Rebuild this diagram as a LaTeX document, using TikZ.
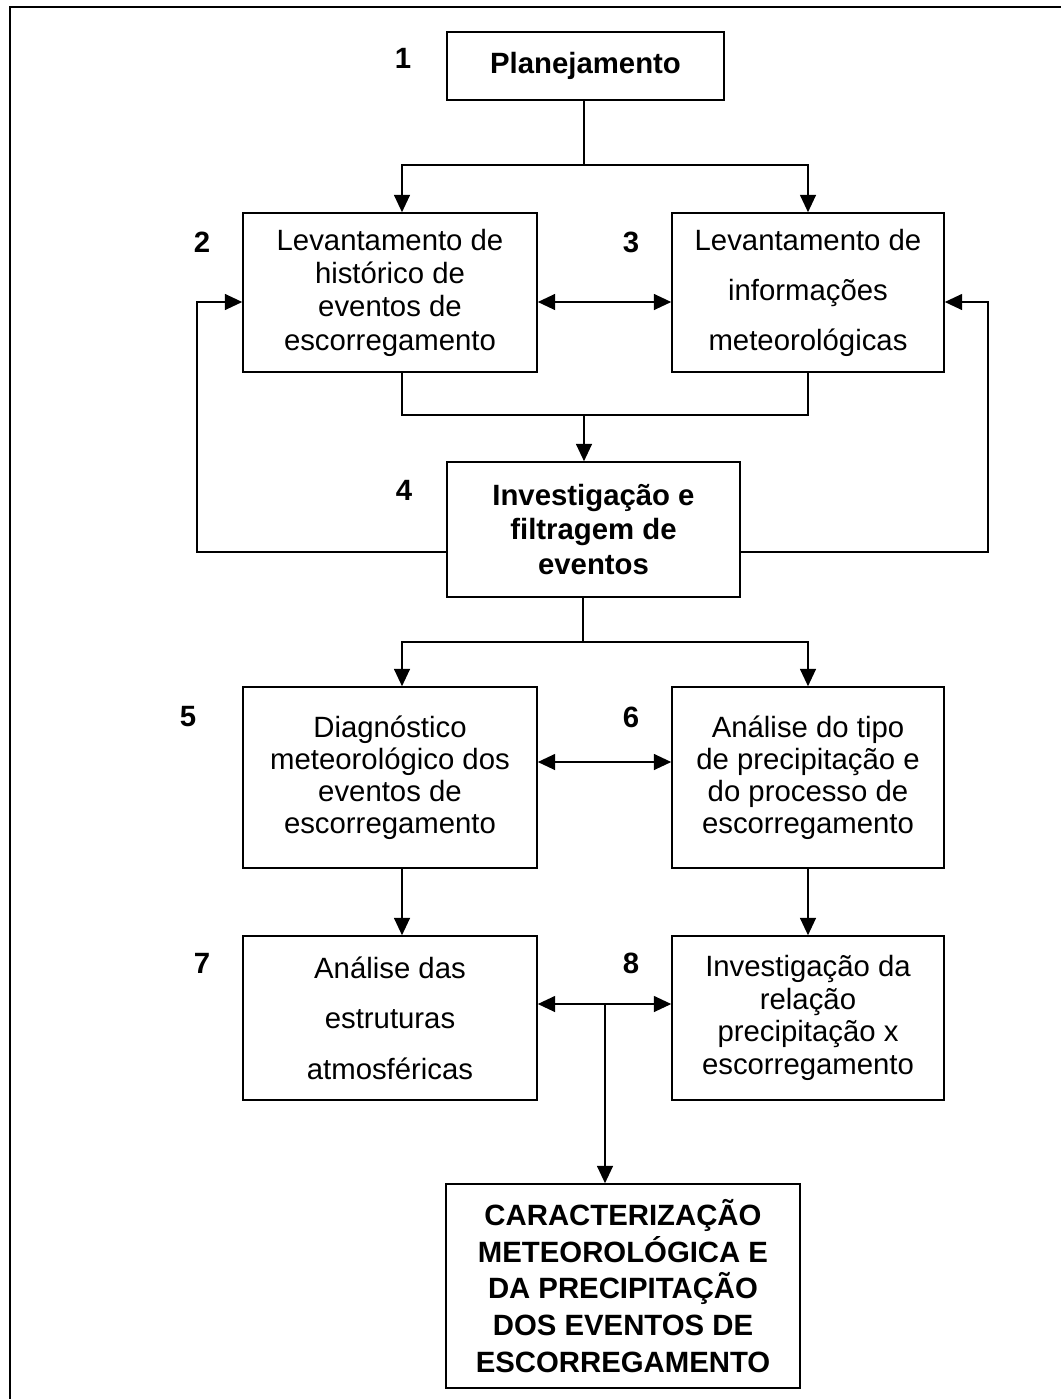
\documentclass[tikz,border=0pt]{standalone}
\usepackage{fontspec}
\setmainfont{Liberation Sans}
\usetikzlibrary{arrows.meta}
\begin{document}
\begin{tikzpicture}[x=0.75pt,y=-0.75pt,
  box/.style={draw, line width=1.2pt, align=center, inner sep=0pt, font=\fontsize{22}{25}\selectfont},
  bbox/.style={box, font=\bfseries\fontsize{22}{26}\selectfont},
  lbl/.style={font=\bfseries\fontsize{22}{24}\selectfont, inner sep=0pt},
  conn/.style={line width=1pt},
  arr/.style={conn, -{Triangle[length=13pt,width=12pt]}},
  dbl/.style={conn, {Triangle[length=13pt,width=12pt]}-{Triangle[length=13pt,width=12pt]}}]
\useasboundingbox (0,0) rectangle (1061,1399);
\draw[line width=1.5pt] (10,1399) -- (10,7) -- (1061,7);

% boxes
\node[bbox, minimum width=207.75pt, minimum height=51pt] (b1) at (585.5,66) {Planejamento};
\node[box, minimum width=220.5pt, minimum height=119.25pt] (b2) at (390,292.5)
  {Levantamento de\\histórico de\\eventos de\\escorregamento};
\node[box, minimum width=204pt, minimum height=119.25pt, font=\fontsize{22}{37.5}\selectfont] (b3) at (808,292.5)
  {Levantamento de\\informações\\meteorológicas};
\node[bbox, minimum width=219.75pt, minimum height=101.25pt] (b4) at (593.5,529.5)
  {Investigação e\\filtragem de\\eventos};
\node[box, minimum width=220.5pt, minimum height=135.75pt, font=\fontsize{22}{24}\selectfont] (b5) at (390,777.5)
  {Diagnóstico\\meteorológico dos\\eventos de\\escorregamento};
\node[box, minimum width=204pt, minimum height=135.75pt, font=\fontsize{22}{24}\selectfont] (b6) at (808,777.5)
  {Análise do tipo\\de precipitação e\\do processo de\\escorregamento};
\node[box, minimum width=220.5pt, minimum height=123pt, font=\fontsize{22}{38}\selectfont] (b7) at (390,1018)
  {Análise das\\estruturas\\atmosféricas};
\node[box, minimum width=204pt, minimum height=123pt, font=\fontsize{22}{24.5}\selectfont] (b8) at (808,1018)
  {Investigação da\\relação\\precipitação x\\escorregamento};
\node[bbox, minimum width=265.5pt, minimum height=153pt, font=\bfseries\fontsize{22}{27.5}\selectfont] (b9) at (623,1286)
  {CARACTERIZAÇÃO\\METEOROLÓGICA E\\DA PRECIPITAÇÃO\\DOS EVENTOS DE\\ESCORREGAMENTO};

% labels
\node[lbl] (n1) at (403,58) {1};
\node[lbl] (n2) at (202,242) {2};
\node[lbl] (n3) at (631,242) {3};
\node[lbl] (n4) at (404,490) {4};
\node[lbl] (n5) at (188,717) {5};
\node[lbl] (n6) at (631,717) {6};
\node[lbl] (n7) at (202,963) {7};
\node[lbl] (n8) at (631,963) {8};

% junction coordinates
\coordinate (j1) at (584,165);
\coordinate (j1l) at (402,165);
\coordinate (j1r) at (808,165);
\coordinate (j2) at (584,415);
\coordinate (j2l) at (402,415);
\coordinate (j2r) at (808,415);
\coordinate (j3) at (583,642);
\coordinate (j3l) at (402,642);
\coordinate (j3r) at (808,642);
\coordinate (fa) at (0,302);
\coordinate (fl) at (197,552);
\coordinate (fr) at (988,552);
\coordinate (d56) at (0,762);
\coordinate (d78) at (605,1004);

% connectors
\draw[conn] (j1 |- b1.south) -- (j1);
\draw[arr] (j1) -- (j1l) -- (j1l |- b2.north);
\draw[arr] (j1) -- (j1r) -- (j1r |- b3.north);
\draw[dbl] (b2.east |- fa) -- (b3.west |- fa);
\draw[conn] (j2l |- b2.south) -- (j2l) -- (j2r) -- (j2r |- b3.south);
\draw[arr] (j2) -- (j2 |- b4.north);
\draw[arr] (b4.west |- fl) -- (fl) -- (fl |- fa) -- (b2.west |- fa);
\draw[arr] (b4.east |- fr) -- (fr) -- (fr |- fa) -- (b3.east |- fa);
\draw[conn] (j3 |- b4.south) -- (j3);
\draw[arr] (j3) -- (j3l) -- (j3l |- b5.north);
\draw[arr] (j3) -- (j3r) -- (j3r |- b6.north);
\draw[dbl] (b5.east |- d56) -- (b6.west |- d56);
\draw[arr] (j3l |- b5.south) -- (j3l |- b7.north);
\draw[arr] (j3r |- b6.south) -- (j3r |- b8.north);
\draw[dbl] (b7.east |- d78) -- (b8.west |- d78);
\draw[arr] (d78) -- (d78 |- b9.north);
\end{tikzpicture}
\end{document}
